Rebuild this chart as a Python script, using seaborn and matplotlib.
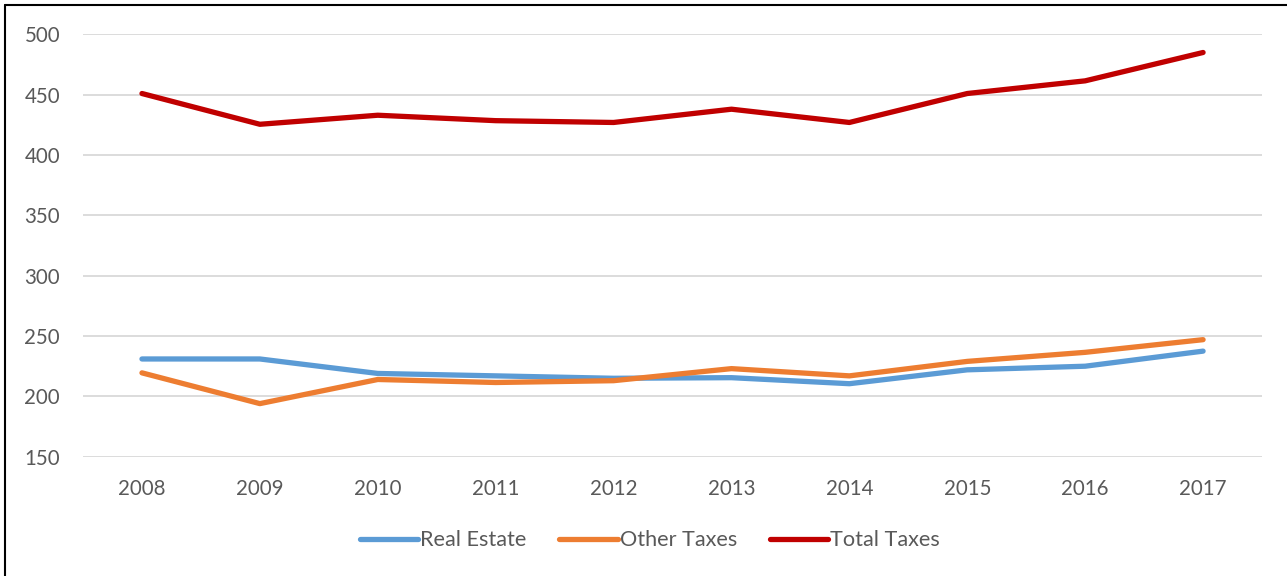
import pandas as pd
import numpy as np
import seaborn as sns
import matplotlib
import matplotlib.pyplot as plt
from matplotlib.lines import Line2D

years = [2008, 2009, 2010, 2011, 2012, 2013, 2014, 2015, 2016, 2017]
real_estate = [231, 231, 219, 217, 215, 215.5, 210.5, 222, 225, 237.5]
other_taxes = [219.5, 194, 214, 211.5, 213, 223, 217, 229, 236.5, 247]
total_taxes = [451, 425.5, 433, 428.5, 427, 438, 427, 451, 461.5, 485]
series_names = ['Real Estate', 'Other Taxes', 'Total Taxes']

sns.set_style('white')
plt.rcParams['font.family'] = ['Lato', 'DejaVu Sans']

df = pd.DataFrame({'Year': [str(y) for y in years],
                   'Real Estate': real_estate,
                   'Other Taxes': other_taxes,
                   'Total Taxes': total_taxes})
long = df.melt(id_vars='Year', var_name='Series', value_name='Value')

colours = ['#5B9BD5', '#ED7D31', '#C00000']
palette = dict(zip(series_names, colours))

fig = plt.figure(figsize=(12.87, 5.76), dpi=100)
ax = fig.add_axes([0.0645, 0.2071, 0.9161, 0.7332])

sns.lineplot(data=long, x='Year', y='Value', hue='Series', palette=palette,
             linewidth=3.8, solid_capstyle='round', ax=ax, legend=False, sort=False)

ax.set_xlim(-0.5, len(years) - 0.5)
ax.set_ylim(150, 500)
ax.set_yticks(np.arange(150, 501, 50))
ax.yaxis.grid(True, color='#D9D9D9', linewidth=1.3)
ax.set_axisbelow(True)
for s in ax.spines.values():
    s.set_visible(False)
ax.tick_params(axis='both', length=0, labelsize=14.8, labelcolor='#595959')
ax.tick_params(axis='y', pad=16.5)
ax.tick_params(axis='x', pad=16)
ax.set_xlabel('')
ax.set_ylabel('')

handles = [Line2D([0], [0], color=c, linewidth=3.8, solid_capstyle='round') for c in colours]
leg = fig.legend(handles, series_names, loc='center', bbox_to_anchor=(0.505, 0.062),
                 ncol=3, frameon=False, fontsize=15.6, handlelength=2.7,
                 handletextpad=0.1, columnspacing=1.5)
for t in leg.get_texts():
    t.set_color('#595959')

# chart frame edges visible in the crop
fig.add_artist(Line2D([0.004, 0.004], [0, 0.991], color='black', linewidth=1.5,
                      transform=fig.transFigure))
fig.add_artist(Line2D([0.004, 1], [0.991, 0.991], color='black', linewidth=1.5,
                      transform=fig.transFigure))

fig.savefig('out.png', dpi=100, facecolor='white')
